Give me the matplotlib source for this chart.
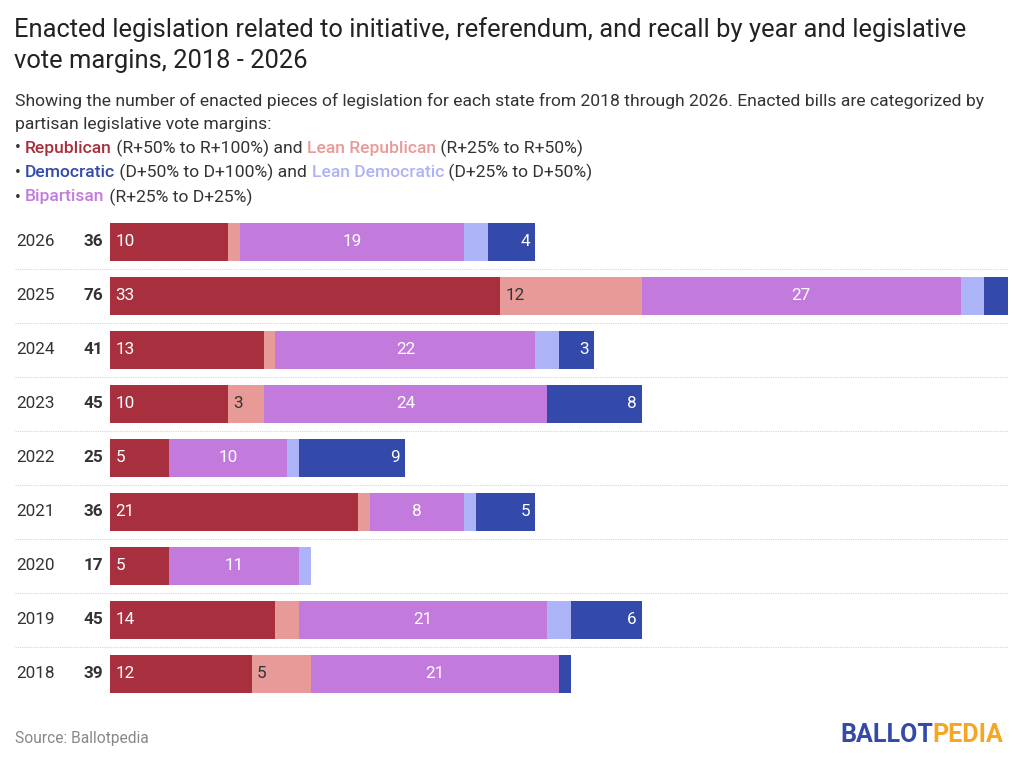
import numpy as np
import matplotlib.pyplot as plt

plt.rcParams['font.family'] = ['Roboto', 'DejaVu Sans']

# 数据
years = ['2026', '2025', '2024', '2023', '2022', '2021', '2020', '2019', '2018']
republican = [10, 33, 13, 10, 5, 21, 5, 14, 12]
lean_republican = [1, 12, 1, 3, 0, 1, 0, 2, 5]
bipartisan = [19, 27, 22, 24, 10, 8, 11, 21, 21]
lean_democratic = [2, 2, 2, 0, 1, 1, 1, 2, 0]
democratic = [4, 2, 3, 8, 9, 5, 0, 6, 1]

series = [republican, lean_republican, bipartisan, lean_democratic, democratic]
colors = ['#a8303e', '#e89a98', '#c27bdc', '#adb3f7', '#334aab']
text_colors = ['white', '#333333', 'white', '#333333', 'white']
aligns = ['left', 'left', 'center', 'center', 'right']

fig = plt.figure(figsize=(10.24, 7.62), dpi=100)
ax = fig.add_axes([110 / 1024, 1 - 701 / 762, 898 / 1024, 486 / 762])

y = np.arange(len(years))
totals = np.sum(series, axis=0)
left = np.zeros(len(years))
for vals, c, tc, al in zip(series, colors, text_colors, aligns):
    vals = np.array(vals, dtype=float)
    ax.barh(y, vals, left=left, height=0.7, color=c, edgecolor='none')
    for i, v in enumerate(vals):
        if v >= 3:
            if al == 'left':
                xp = left[i] + 0.45
            elif al == 'right':
                xp = left[i] + v - 0.45
            else:
                xp = left[i] + v / 2
            ax.text(xp, y[i], f'{int(v)}', ha=al, va='center', color=tc, fontsize=12.3)
    left += vals

ax.set_xlim(0, totals.max())
ax.set_ylim(len(years) - 0.5, -0.5)
ax.axis('off')

# 行分隔线
for i in range(len(years) - 1):
    ax.axhline(i + 0.5, xmin=-95 / 898, xmax=1, color='#d6d6d6', lw=0.8,
               ls=(0, (1, 1)), clip_on=False)

tr = ax.get_yaxis_transform()
for i, (yr, t) in enumerate(zip(years, totals)):
    ax.text(-94 / 898, i, yr, transform=tr, ha='left', va='center', fontsize=12.3, color='#333333')
    ax.text(-7 / 898, i, str(t), transform=tr, ha='right', va='center', fontsize=12.3,
            fontweight='bold', color='#333333')

# 标题
fig.text(14 / 1024, 1 - 30 / 762, 'Enacted legislation related to initiative, referendum, and recall by year and legislative',
         fontsize=18.4, color='#222222', va='center')
fig.text(14 / 1024, 1 - 61 / 762, 'vote margins, 2018 - 2026', fontsize=18.4, color='#222222', va='center')
fig.text(15 / 1024, 1 - 101 / 762,
         'Showing the number of enacted pieces of legislation for each state from 2018 through 2026. Enacted bills are categorized by',
         fontsize=12.6, color='#333333', va='center')
fig.text(15 / 1024, 1 - 124 / 762, 'partisan legislative vote margins:', fontsize=12.6, color='#333333', va='center')

legend_lines = [
    [('• ', '#333333'), ('Republican', colors[0]), (' (R+50% to R+100%) and ', '#333333'),
     ('Lean Republican', colors[1]), (' (R+25% to R+50%)', '#333333')],
    [('• ', '#333333'), ('Democratic', colors[4]), (' (D+50% to D+100%) and ', '#333333'),
     ('Lean Democratic', colors[3]), (' (D+25% to D+50%)', '#333333')],
    [('• ', '#333333'), ('Bipartisan', colors[2]), (' (R+25% to D+25%)', '#333333')],
]
fig.canvas.draw()
renderer = fig.canvas.get_renderer()
for k, parts in enumerate(legend_lines):
    x = 15 / 1024
    yy = 1 - (148 + 24.5 * k) / 762
    for s, c in parts:
        w = 'medium' if c != '#333333' else 'normal'
        t = fig.text(x, yy, s, fontsize=12.6, color=c, va='center', fontweight=w)
        bb = t.get_window_extent(renderer)
        x += bb.width / fig.bbox.width

fig.text(15 / 1024, 1 - 738 / 762, 'Source: Ballotpedia', fontsize=11.2, color='#888888', va='center')
t1 = fig.text(840 / 1024, 1 - 735 / 762, 'BALLOT', fontsize=18, fontweight='bold', color='#334aab', va='center')
bb = t1.get_window_extent(renderer)
fig.text(840 / 1024 + bb.width / fig.bbox.width, 1 - 735 / 762, 'PEDIA', fontsize=18, fontweight='bold',
         color='#f5a623', va='center')

fig.savefig('out.png', dpi=100)
